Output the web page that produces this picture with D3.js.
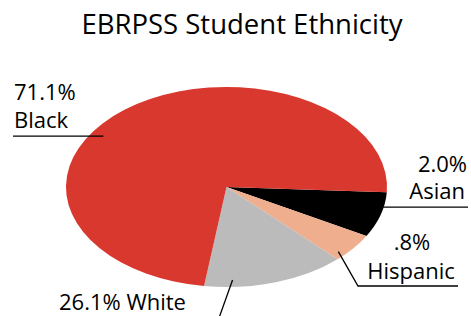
<!DOCTYPE html>
<html>
<head>
<meta charset="utf-8">
<script src="https://cdn.jsdelivr.net/npm/d3@7"></script>
<style>
	body { margin: 0; background: #fff; }
	text { font-family: "Open Sans", Lato, sans-serif; fill: #000; }
	.title { font-size: 27.5px; }
	.lbl { font-size: 22px; }
	.leader { stroke: #000; stroke-width: 1.3; fill: none; }
</style>
</head>
<body>
<div id="chart"></div>
<script>
"use strict"

// slice order, clockwise starting just below 3 o'clock
var categories = ["Asian", "Hispanic", "White", "Black"];
// slice shares as drawn in the picture
var shares = [7.3, 4.7, 14.4, 73.6];
// label text printed next to each slice
var pctLabels = ["2.0%", ".8%", "26.1%", "71.1%"];
var colors = ["#000000", "#efae8e", "#bbbbbb", "#d9382e"];

var width = 471, height = 316;
var cx = 226.5, cy = 187, rx = 160.5, ry = 100;
var startDeg = 93;

var svg = d3.select("#chart").append("svg")
	.attr("width", width)
	.attr("height", height);

svg.append("text")
	.attr("class", "title")
	.attr("x", 242)
	.attr("y", 34)
	.attr("text-anchor", "middle")
	.text("EBRPSS Student Ethnicity");

var pie = d3.pie()
	.sort(null)
	.value(d => d)
	.startAngle(startDeg * Math.PI / 180)
	.endAngle(startDeg * Math.PI / 180 + 2 * Math.PI);

var arc = d3.arc().innerRadius(0).outerRadius(rx);
var slices = pie(shares);

svg.append("g")
	.attr("transform", `translate(${cx},${cy}) scale(1,${ry / rx})`)
	.selectAll("path")
	.data(slices)
	.enter().append("path")
		.attr("d", arc)
		.attr("fill", (d, i) => colors[i]);

// point on the flattened pie: fraction t through the slice, f of the radius
function onPie(s, t, f) {
	var a = s.startAngle + (s.endAngle - s.startAngle) * t;
	return [cx + f * rx * Math.sin(a), cy - f * ry * Math.cos(a)];
}

// Asian
var p = onPie(slices[0], 0.33, 0.997);
svg.append("path").attr("class", "leader")
	.attr("d", `M${p[0]},${p[1]}H468`);
svg.append("text").attr("class", "lbl").attr("x", 467).attr("y", 172).attr("text-anchor", "end").text(pctLabels[0]);
svg.append("text").attr("class", "lbl").attr("x", 465).attr("y", 199).attr("text-anchor", "end").text(categories[0]);

// Hispanic
p = onPie(slices[1], 0.8, 0.95);
svg.append("path").attr("class", "leader")
	.attr("d", `M${p[0]},${p[1]}L358,286H458`);
svg.append("text").attr("class", "lbl").attr("x", 412).attr("y", 249.5).attr("text-anchor", "middle").text(pctLabels[1]);
svg.append("text").attr("class", "lbl").attr("x", 411).attr("y", 279).attr("text-anchor", "middle").text(categories[1]);

// White
p = onPie(slices[2], 0.8, 0.93);
svg.append("path").attr("class", "leader")
	.attr("d", `M${p[0]},${p[1]}L219,318`);
svg.append("text").attr("class", "lbl").attr("x", 59).attr("y", 310).text(pctLabels[2] + " " + categories[2]);

// Black
p = onPie(slices[3], 0.436, 0.92);
svg.append("path").attr("class", "leader")
	.attr("d", `M${p[0]},${p[1]}H13`);
svg.append("text").attr("class", "lbl").attr("x", 14).attr("y", 100).text(pctLabels[3]);
svg.append("text").attr("class", "lbl").attr("x", 14).attr("y", 128).text(categories[3]);
</script>
</body>
</html>
